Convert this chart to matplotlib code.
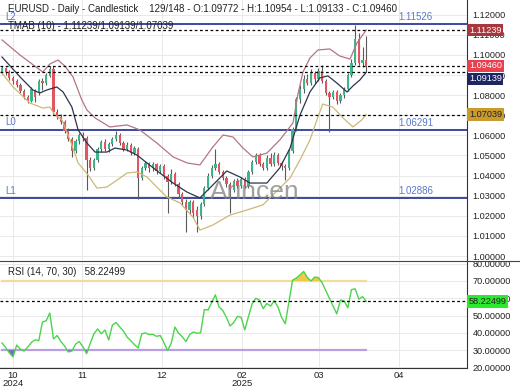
import matplotlib
matplotlib.use("Agg")
import matplotlib.pyplot as plt
import matplotlib.transforms as mtransforms
from matplotlib.lines import Line2D
import numpy as np

plt.rcParams["font.family"] = ["Liberation Sans", "DejaVu Sans"]

# daily EURUSD bars
opens = [1.0915, 1.0935, 1.0915, 1.0885, 1.0870, 1.0850, 1.0820, 1.0790, 1.0770, 1.0820,
         1.0810, 1.0870, 1.0860, 1.0895, 1.0930, 1.0715, 1.0690, 1.0665, 1.0620, 1.0580,
         1.0520, 1.0570, 1.0600, 1.0585, 1.0480, 1.0440, 1.0480, 1.0530, 1.0565, 1.0530,
         1.0555, 1.0580, 1.0600, 1.0560, 1.0530, 1.0550, 1.0510, 1.0530, 1.0390, 1.0440,
         1.0465, 1.0440, 1.0460, 1.0425, 1.0450, 1.0400, 1.0370, 1.0410, 1.0360, 1.0310,
         1.0270, 1.0230, 1.0270, 1.0230, 1.0200, 1.0260, 1.0340, 1.0400, 1.0440, 1.0460,
         1.0420, 1.0390, 1.0360, 1.0330, 1.0375, 1.0350, 1.0385, 1.0350, 1.0420, 1.0470,
         1.0500, 1.0460, 1.0440, 1.0490, 1.0460, 1.0500, 1.0465, 1.0450, 1.0440, 1.0520,
         1.0630, 1.0780, 1.0830, 1.0880, 1.0860, 1.0910, 1.0880, 1.0920, 1.0870, 1.0810,
         1.0790, 1.0815, 1.0770, 1.0800, 1.0830, 1.0900, 1.0960, 1.1080, 1.0960, 1.09772]
highs = [1.0945, 1.0940, 1.0925, 1.0895, 1.0880, 1.0860, 1.0830, 1.0800, 1.0840, 1.0830,
         1.0880, 1.0885, 1.0910, 1.0945, 1.0945, 1.0730, 1.0705, 1.0675, 1.0635, 1.0590,
         1.0580, 1.0610, 1.0615, 1.0595, 1.0495, 1.0490, 1.0540, 1.0575, 1.0580, 1.0565,
         1.0590, 1.0622, 1.0610, 1.0570, 1.0565, 1.0560, 1.0545, 1.0540, 1.0450, 1.0475,
         1.0470, 1.0470, 1.0465, 1.0460, 1.0460, 1.0410, 1.0435, 1.0420, 1.0370, 1.0320,
         1.0285, 1.0280, 1.0280, 1.0250, 1.0270, 1.0350, 1.0415, 1.0455, 1.0530, 1.0470,
         1.0430, 1.0400, 1.0370, 1.0385, 1.0390, 1.0395, 1.0395, 1.0430, 1.0480, 1.0510,
         1.0510, 1.0470, 1.0500, 1.0510, 1.0515, 1.0510, 1.0475, 1.0460, 1.0530, 1.0640,
         1.0790, 1.0850, 1.0900, 1.0905, 1.0930, 1.0920, 1.0935, 1.0950, 1.0880, 1.0820,
         1.0825, 1.0825, 1.0810, 1.0840, 1.0910, 1.0980, 1.1150, 1.1110, 1.1040, 1.10954]
lows = [1.0905, 1.0900, 1.0875, 1.0855, 1.0840, 1.0810, 1.0780, 1.0760, 1.0765, 1.0765,
        1.0800, 1.0826, 1.0850, 1.0890, 1.0705, 1.0680, 1.0655, 1.0610, 1.0570, 1.0495,
        1.0510, 1.0555, 1.0570, 1.0330, 1.0425, 1.0430, 1.0470, 1.0515, 1.0520, 1.0515,
        1.0545, 1.0570, 1.0550, 1.0520, 1.0520, 1.0500, 1.0500, 1.0285, 1.0380, 1.0430,
        1.0420, 1.0425, 1.0410, 1.0415, 1.0385, 1.0215, 1.0360, 1.0350, 1.0290, 1.0255,
        1.0120, 1.0210, 1.0190, 1.0120, 1.0185, 1.0250, 1.0330, 1.0390, 1.0430, 1.0410,
        1.0380, 1.0345, 1.0215, 1.0320, 1.0340, 1.0340, 1.0340, 1.0340, 1.0410, 1.0460,
        1.0450, 1.0430, 1.0430, 1.0450, 1.0450, 1.0455, 1.0430, 1.0380, 1.0430, 1.0510,
        1.0620, 1.0760, 1.0810, 1.0850, 1.0850, 1.0860, 1.0870, 1.0860, 1.0800, 1.0617,
        1.0780, 1.0755, 1.0760, 1.0785, 1.0820, 1.0890, 1.0950, 1.0950, 1.0940, 1.09133]
closes = [1.0935, 1.0915, 1.0885, 1.0870, 1.0850, 1.0820, 1.0790, 1.0770, 1.0830, 1.0790,
          1.0870, 1.0860, 1.0900, 1.0930, 1.0715, 1.0690, 1.0665, 1.0620, 1.0580, 1.0520,
          1.0570, 1.0600, 1.0585, 1.0480, 1.0440, 1.0480, 1.0530, 1.0565, 1.0530, 1.0555,
          1.0580, 1.0600, 1.0560, 1.0530, 1.0550, 1.0510, 1.0535, 1.0390, 1.0440, 1.0465,
          1.0440, 1.0460, 1.0425, 1.0450, 1.0400, 1.0370, 1.0410, 1.0360, 1.0310, 1.0270,
          1.0230, 1.0270, 1.0215, 1.0200, 1.0260, 1.0340, 1.0400, 1.0440, 1.0460, 1.0420,
          1.0390, 1.0360, 1.0330, 1.0375, 1.0350, 1.0385, 1.0350, 1.0420, 1.0470, 1.0500,
          1.0460, 1.0440, 1.0490, 1.0460, 1.0500, 1.0465, 1.0450, 1.0440, 1.0520, 1.0630,
          1.0780, 1.0830, 1.0880, 1.0860, 1.0910, 1.0880, 1.0920, 1.0870, 1.0810, 1.0790,
          1.0815, 1.0770, 1.0800, 1.0830, 1.0900, 1.0960, 1.1080, 1.0960, 1.0977, 1.09460]

# RSI (14)
rsi = [34.2, 31.5, 28.5, 26.1, 33.0, 30.5, 29.5, 31.8, 34.5, 36.0,
       35.5, 46.3, 47.0, 51.5, 36.5, 38.5, 35.0, 32.5, 29.0, 29.5,
       33.5, 35.0, 32.0, 28.0, 34.0, 39.5, 42.3, 39.5, 41.7, 35.9,
       44.5, 46.0, 43.5, 41.0, 37.6, 35.5, 33.2, 31.3, 39.5, 40.0,
       39.0, 39.2, 38.0, 38.5, 34.5, 29.8, 34.0, 43.4, 39.8, 37.8,
       35.0, 39.0, 40.5, 39.8, 40.0, 53.5, 53.2, 57.5, 62.0, 55.0,
       53.0, 49.0, 44.0, 46.0, 49.5, 49.0, 41.7, 49.5, 56.8, 60.0,
       59.0, 54.0, 57.0, 55.5, 58.5, 55.0, 49.0, 45.3, 58.0, 70.5,
       71.7, 73.5, 75.5, 72.0, 70.0, 72.3, 72.0, 69.0, 64.5, 60.0,
       55.5, 51.0, 59.0, 58.5, 54.5, 65.0, 65.5, 59.5, 61.0, 58.22499]

# TMA bands, sampled at bar positions
upper_pos = [0, 4.9, 11.1, 13.0, 15.2, 17.1, 19.3, 21.7, 23.1, 25.3, 29.3, 34.0, 37.5,
             42.1, 46.5, 50.3, 53.8, 57.3, 60.1, 62.8, 65.5, 68.2, 72.0, 75.5, 79.1,
             80.4, 81.8, 83.7, 85.9, 89.1, 91.8, 94.6, 96.5, 99]
upper = [1.1075, 1.1000, 1.0915, 1.0955, 1.0975, 1.0945, 1.0891, 1.0776, 1.0726, 1.0687,
         1.0642, 1.0652, 1.0627, 1.0562, 1.0493, 1.0463, 1.0453, 1.0542, 1.0602, 1.0592,
         1.0537, 1.0493, 1.0512, 1.0577, 1.0662, 1.0801, 1.0915, 1.0985, 1.1025, 1.1030,
         1.0995, 1.0980, 1.1060, 1.11239]
middle_pos = [0, 4.9, 8.4, 10.3, 12.2, 14.9, 16.6, 19.0, 20.7, 23.1, 25.3, 28.5, 30.7,
              34.0, 36.7, 39.4, 42.9, 46.5, 50.3, 53.8, 57.3, 61.1, 64.7, 67.4, 72.0,
              75.5, 78.3, 81.0, 83.7, 86.4, 88.6, 91.0, 93.8, 95.4, 97.3, 99]
middle = [1.0990, 1.0891, 1.0826, 1.0811, 1.0826, 1.0841, 1.0816, 1.0741, 1.0627, 1.0562,
          1.0517, 1.0517, 1.0537, 1.0527, 1.0502, 1.0463, 1.0413, 1.0363, 1.0318, 1.0289,
          1.0353, 1.0423, 1.0393, 1.0363, 1.0363, 1.0438, 1.0537, 1.0701, 1.0816, 1.0886,
          1.0896, 1.0861, 1.0816, 1.0846, 1.0876, 1.09139]
lower_pos = [0, 3.0, 7.6, 11.1, 13.0, 14.4, 16.3, 18.5, 20.7, 23.4, 25.8, 28.5, 31.3,
             34.0, 36.7, 39.4, 42.1, 44.8, 48.4, 51.9, 53.8, 57.3, 62.0, 66.6, 70.9,
             75.5, 78.3, 81.0, 83.7, 85.6, 87.2, 89.9, 92.7, 95.4, 97.8, 99]
lower = [1.0910, 1.0841, 1.0761, 1.0736, 1.0741, 1.0701, 1.0677, 1.0577, 1.0463, 1.0403,
         1.0338, 1.0343, 1.0378, 1.0413, 1.0418, 1.0393, 1.0343, 1.0294, 1.0264, 1.0194,
         1.0129, 1.0154, 1.0204, 1.0229, 1.0254, 1.0338, 1.0388, 1.0478, 1.0577, 1.0677,
         1.0756, 1.0741, 1.0687, 1.0642, 1.0677, 1.07039]

levels = [1.11526, 1.06291, 1.02886]
level_names = ["L2", "L0", "L1"]
tmab_last = [1.11239, 1.09139, 1.07039]
last_close = 1.09460
rsi_last = 58.22499

x_ticks = [3.0, 21.7, 43.5, 65.2, 86.1, 107.9]
x_labels = ["10\n2024", "11", "12", "02\n2025", "03", "04"]

UP, DOWN, WICK = "#3db58a", "#e35560", "#5a5a5a"
BLUE = "#2b3a99"
LBL = "#5b78c8"

fig = plt.figure(figsize=(5.2, 3.9), dpi=100)
ax = fig.add_axes([0, 1 - 260 / 390, 467 / 520, 260 / 390])
ax2 = fig.add_axes([0, 1 - 368 / 390, 467 / 520, 107 / 390])

x = np.arange(len(closes))
o, h, l, c = map(np.array, (opens, highs, lows, closes))
up = c >= o

# ---- main panel
ax.vlines(x, l, h, color=WICK, lw=0.8, zorder=3)
ax.bar(x, np.maximum(np.abs(c - o), 0.0003), bottom=np.minimum(o, c), width=0.62,
       color=np.where(up, UP, DOWN), linewidth=0, zorder=4)

ax.plot(upper_pos, upper, color="#b37684", lw=0.9, zorder=5)
ax.plot(middle_pos, middle, color="#2c3550", lw=0.9, zorder=5)
ax.plot(lower_pos, lower, color="#cdb878", lw=0.9, zorder=5)

for lv in levels:
    ax.axhline(lv, color=BLUE, lw=1.3, zorder=2)
for lv in tmab_last + [last_close]:
    ax.axhline(lv, color="black", lw=0.9, ls=(0, (2.2, 2)), zorder=6)

ax.set_xlim(-0.54, 126.4)
ax.set_ylim(0.99801, 1.12736)
ax.set_xticks(x_ticks)
ax.set_yticks(np.arange(1.00, 1.1251, 0.01))
ax.yaxis.tick_right()
ax.yaxis.set_major_formatter(plt.FormatStrFormatter("%.5f"))
ax.tick_params(axis="y", length=0, labelsize=6.6, labelcolor="#222", pad=4)
ax.tick_params(axis="x", length=0, labelbottom=False)
ax.grid(color="#e9e9e9", lw=0.7, zorder=0)
for s in ("left", "top", "bottom"):
    ax.spines[s].set_visible(False)
ax.spines["right"].set_color("#333")

tr = mtransforms.blended_transform_factory(ax.transAxes, ax.transData)
# levels: name on the left, value on the right side of the plot
for lv, name in zip(levels, level_names):
    ax.text(0.012, lv + 0.0012, name, transform=tr, color=LBL, fontsize=7, va="bottom")
    ax.text(0.89, lv + 0.0010, f"{lv:.5f}", transform=tr, color=LBL, fontsize=7,
            ha="center", va="bottom")

# right-hand value boxes; the 1.09139 box is nudged down so it clears 1.09460
boxes = [(tmab_last[0], 0.0, "#a8373d", "white"), (last_close, 0.0, "#e8404f", "white"),
         (tmab_last[1], -0.0032, "#1d2663", "white"), (tmab_last[2], 0.0, "#c99a2e", "#222")]
for val, dy, fc, tc in boxes:
    ax.text(1.004, val + dy, f"{val:.5f}", transform=tr, color=tc, fontsize=6.6,
            va="center", ha="left", clip_on=False, zorder=10,
            bbox=dict(boxstyle="square,pad=0.18", fc=fc, ec="none"))

ax.text(0.017, 0.955, "EURUSD - Daily - Candlestick    129/148 - O:1.09772 - H:1.10954 - "
        "L:1.09133 - C:1.09460", transform=ax.transAxes, fontsize=7, color="#222", zorder=11)
ax.text(0.017, 0.89, "TMAB (10) - 1.11239/1.09139/1.07039", transform=ax.transAxes,
        fontsize=7, color="#222", zorder=4)
ax.text(68.7, 1.0318, "Arincen", fontsize=19, color="#808080", alpha=0.75, ha="center",
        va="center", zorder=7)

# ---- RSI panel
r = np.array(rsi)
ax2.plot([x[0], x[-1]], [70, 70], color="#f1dc9c", lw=1.6, zorder=2)
ax2.plot([x[0], x[-1]], [30, 30], color="#b89ee3", lw=1.6, zorder=2)
ax2.fill_between(x, r, 70, where=r > 70, interpolate=True, color="#f2c84b", lw=0, zorder=3)
ax2.fill_between(x, r, 30, where=r < 30, interpolate=True, color="#7668c4", lw=0, zorder=3)
ax2.plot(x, r, color="#4cd44c", lw=1, zorder=4)
ax2.axhline(rsi_last, color="black", lw=0.9, ls=(0, (2.2, 2)), zorder=5)

ax2.set_xlim(-0.54, 126.4)
ax2.set_ylim(19.71, 81.56)
ax2.set_yticks(np.arange(20, 81, 10))
ax2.yaxis.tick_right()
ax2.yaxis.set_major_formatter(plt.FormatStrFormatter("%.5f"))
ax2.tick_params(axis="y", length=0, labelsize=6.6, labelcolor="#222", pad=4)
ax2.set_xticks(x_ticks)
ax2.set_xticklabels(x_labels, linespacing=0.95)
ax2.tick_params(axis="x", length=0, labelsize=6.8, labelcolor="#222", pad=2)
ax2.grid(color="#e9e9e9", lw=0.7, zorder=0)
ax2.spines["left"].set_visible(False)
ax2.spines["top"].set_visible(False)
ax2.spines["right"].set_color("#333")
ax2.spines["bottom"].set_color("#333")

tr2 = mtransforms.blended_transform_factory(ax2.transAxes, ax2.transData)
ax2.text(1.004, rsi_last, f"{rsi_last:.5f}", transform=tr2, color="#222", fontsize=6.6,
         va="center", ha="left", clip_on=False, zorder=10,
         bbox=dict(boxstyle="square,pad=0.18", fc="#2bea2b", ec="none"))
ax2.text(0.017, 0.9, f"RSI (14, 70, 30)   {rsi_last:.5f}", transform=ax2.transAxes,
         fontsize=7, color="#222", va="center")

fig.add_artist(Line2D([0, 1], [1 - 261 / 390] * 2, color="#444", lw=0.8))

fig.savefig("out.png", dpi=100)
